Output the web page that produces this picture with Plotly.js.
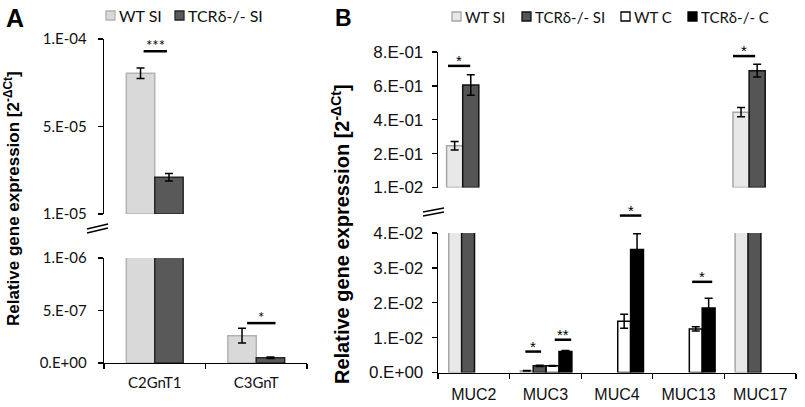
<!DOCTYPE html>
<html><head><meta charset="utf-8">
<script src="https://cdn.plot.ly/plotly-3.0.1.min.js"></script>
<style>html,body{margin:0;padding:0;background:#fff}#chart{width:805px;height:407px}</style>
</head><body><div id="chart"></div>
<script>
// ---------- Panel A data ----------
const catsA = ['C2GnT1', 'C3GnT'];
const wtSI_A = [8.05e-5, 2.6e-7];
const wtSI_A_err = [3.0e-6, 7e-8];
const tcrSI_A = [2.1e-5, 5e-8];
const tcrSI_A_err = [2.2e-6, 6e-9];
const upperCatsA = ['C2GnT1'];
const tickValsA_upper = [0, 5e-5, 1e-4];
const tickTextA_upper = ['1.E-05', '5.E-05', '1.E-04'];
const tickValsA_lower = [0, 5e-7, 1e-6];
const tickTextA_lower = ['0.E+00', '5.E-07', '1.E-06'];
const seriesA = ['WT SI', 'TCRδ-/- SI'];

// ---------- Panel B data ----------
const catsB = ['MUC2', 'MUC3', 'MUC4', 'MUC13', 'MUC17'];
const wtSI_B = [0.247, 0.0005, null, null, 0.445];
const wtSI_B_err = [0.025, 0.0001, null, null, 0.027];
const tcrSI_B = [0.605, 0.0019, null, null, 0.69];
const tcrSI_B_err = [0.06, 0.0002, null, null, 0.038];
const wtC_B = [null, 0.0019, 0.0147, 0.0125, null];
const wtC_B_err = [null, 0.0001, 0.002, 0.0006, null];
const tcrC_B = [null, 0.006, 0.0353, 0.0185, null];
const tcrC_B_err = [null, 0.0003, 0.0045, 0.0028, null];
const upperCatsB = ['MUC2', 'MUC17'];
const tickValsB_upper = [0, 0.2, 0.4, 0.6, 0.8];
const tickTextB_upper = ['1.E-02', '2.E-01', '4.E-01', '6.E-01', '8.E-01'];
const tickValsB_lower = [0, 0.01, 0.02, 0.03, 0.04];
const tickTextB_lower = ['0.E+00', '1.E-02', '2.E-02', '3.E-02', '4.E-02'];
const seriesB = ['WT SI', 'TCRδ-/- SI', 'WT C', 'TCRδ-/- C'];

// significance brackets: [panel axes, category position from, to, level, label]
const sigMarks = [
  ['A_up', -0.11, 0.12, 9.3e-5, '***'],
  ['A_lo', 0.91, 1.19, 3.8e-7, '*'],
  ['B_up', -0.36, -0.05, 0.718, '*'],
  ['B_up', 3.62, 3.93, 0.776, '*'],
  ['B_lo', 0.72, 0.94, 0.006, '*'],
  ['B_lo', 1.13, 1.36, 0.0094, '**'],
  ['B_lo', 2.04, 2.34, 0.045, '*'],
  ['B_lo', 3.05, 3.33, 0.026, '*']
];

// ---------- styling ----------
const W = 805, H = 407;
const px = x => x / W, py = y => 1 - y / H;
const FA = 'Lato, "Open Sans", sans-serif';
const FB = '"Liberation Sans", Arial, sans-serif';

const styleA = [
  {fill: '#d9d9d9', line: '#b3b3b3'},
  {fill: '#595959', line: '#262626'}
];
const styleB = [
  {fill: '#e8e8e8', line: '#a6a6a6'},
  {fill: '#555555', line: '#111111'},
  {fill: '#ffffff', line: '#000000'},
  {fill: '#000000', line: '#000000'}
];

const keep = (vals, cats, allowed) => vals.map((v, i) => allowed.includes(cats[i]) ? v : null);

function barTrace(name, cats, y, err, st, xa, ya, offset, width) {
  return {
    type: 'bar', name: name, x: cats, y: y, xaxis: xa, yaxis: ya,
    offset: offset, width: width, showlegend: false,
    marker: {color: st.fill, line: {color: st.line, width: 1.5}},
    error_y: {type: 'data', array: err, visible: true, color: '#000', thickness: 1.5, width: 4},
    hoverinfo: 'skip'
  };
}

const wA = 0.28, offA = [-0.28, 0];
const wBlo = 0.18, offBlo = [-0.35, -0.17, 0.01, 0.19];
const wBup = 0.225, offBup = [-0.38, -0.155];

const dataA = [[wtSI_A, wtSI_A_err], [tcrSI_A, tcrSI_A_err]];
const dataB = [[wtSI_B, wtSI_B_err], [tcrSI_B, tcrSI_B_err], [wtC_B, wtC_B_err], [tcrC_B, tcrC_B_err]];

const traces = [];
dataA.forEach((d, i) => {
  traces.push(barTrace(seriesA[i], catsA, d[0], d[1], styleA[i], 'x', 'y', offA[i], wA));
  traces.push(barTrace(seriesA[i], catsA, keep(d[0], catsA, upperCatsA), keep(d[1], catsA, upperCatsA), styleA[i], 'x2', 'y2', offA[i], wA));
});
dataB.forEach((d, i) => {
  traces.push(barTrace(seriesB[i], catsB, d[0], d[1], styleB[i], 'x3', 'y3', offBlo[i], wBlo));
});
dataB.slice(0, 2).forEach((d, i) => {
  traces.push(barTrace(seriesB[i], catsB, keep(d[0], catsB, upperCatsB), keep(d[1], catsB, upperCatsB), styleB[i], 'x4', 'y4', offBup[i], wBup));
});

const xDomA = [px(104), px(307)];
const xDomB = [px(438), px(796)];

function yAx(domain, anchor, range, vals, text, font, size, standoff) {
  return {
    domain: domain, anchor: anchor, range: range, tickvals: vals, ticktext: text,
    showline: true, linecolor: '#000', linewidth: 1.3, ticks: 'outside', ticklen: 5,
    tickcolor: '#000', tickwidth: 1.3, showgrid: false, zeroline: false, ticklabelstandoff: standoff,
    tickfont: {family: font, size: size, color: '#111'}, fixedrange: true
  };
}
function xAx(domain, anchor, cats, font, size, visible, standoff) {
  return {
    domain: domain, anchor: anchor, type: 'category', categoryorder: 'array', categoryarray: cats,
    range: [-0.5, cats.length - 0.5], visible: visible,
    showline: true, linecolor: '#000', linewidth: 1.3, ticks: 'outside', tickson: 'boundaries',
    ticklen: 5, tickcolor: '#000', tickwidth: 1.3, showgrid: false, zeroline: false, ticklabelstandoff: standoff,
    tickfont: {family: font, size: size, color: '#111'}, fixedrange: true
  };
}

const shapes = [];
const annotations = [];

// significance brackets
const axMap = {
  A_up: ['x2', 'y2', 1e-4, FA], A_lo: ['x', 'y', 1e-6, FA],
  B_up: ['x4', 'y4', 0.8, FB], B_lo: ['x3', 'y3', 0.04, FB]
};
sigMarks.forEach(s => {
  const [xa, ya, top, fam] = axMap[s[0]];
  shapes.push({type: 'line', xref: xa, yref: ya + ' domain', x0: s[1], x1: s[2], y0: s[3] / top, y1: s[3] / top,
    line: {color: '#000', width: 2.5}});
  annotations.push({xref: xa, yref: ya + ' domain', x: (s[1] + s[2]) / 2, y: s[3] / top, text: s[4],
    showarrow: false, yanchor: 'bottom', yshift: -5, font: {family: fam, size: 15, color: '#000'}});
});

// axis break marks
[[87, 229, 108, 224], [87, 233, 108, 228], [423, 212, 444, 208], [423, 216, 444, 212]].forEach(b => {
  shapes.push({type: 'line', xref: 'paper', yref: 'paper', x0: px(b[0]), y0: py(b[1]), x1: px(b[2]), y1: py(b[3]),
    line: {color: '#000', width: 1.5}});
});

// custom legends
function legendItem(x, y, st, label, fam, size) {
  shapes.push({type: 'rect', xref: 'paper', yref: 'paper', x0: px(x), x1: px(x + 9), y0: py(y + 9), y1: py(y),
    fillcolor: st.fill, line: {color: st.line, width: 1.3}});
  annotations.push({xref: 'paper', yref: 'paper', x: px(x + 11), y: py(y + 4.5), text: label, showarrow: false,
    xanchor: 'left', yanchor: 'middle', font: {family: fam, size: size, color: '#111'}});
}
const legAx = [106, 175], legBx = [452, 522, 621, 688];
seriesA.forEach((n, i) => legendItem(legAx[i], 11, styleA[i], n, FA, 16));
seriesB.forEach((n, i) => legendItem(legBx[i], 12, styleB[i], n, FA, 15));

// panel letters
annotations.push({xref: 'paper', yref: 'paper', x: px(4), y: py(18), text: '<b>A</b>', showarrow: false,
  xanchor: 'left', yanchor: 'middle', font: {family: FB, size: 25, color: '#000'}});
annotations.push({xref: 'paper', yref: 'paper', x: px(333), y: py(18), text: '<b>B</b>', showarrow: false,
  xanchor: 'left', yanchor: 'middle', font: {family: FB, size: 23, color: '#000'}});

// y axis titles
const yTitle = '<b>Relative gene expression [2<sup>-ΔCt</sup>]</b>';
annotations.push({xref: 'paper', yref: 'paper', x: px(12), y: py(199), text: yTitle, textangle: -90,
  showarrow: false, xanchor: 'center', yanchor: 'middle', font: {family: FB, size: 17, color: '#000'}});
annotations.push({xref: 'paper', yref: 'paper', x: px(340), y: py(234), text: yTitle, textangle: -90,
  showarrow: false, xanchor: 'center', yanchor: 'middle', font: {family: FB, size: 20, color: '#000'}});

const layout = {
  width: W, height: H, margin: {l: 0, r: 0, t: 0, b: 0},
  paper_bgcolor: '#fff', plot_bgcolor: 'rgba(0,0,0,0)',
  barmode: 'overlay', showlegend: false,
  xaxis: xAx(xDomA, 'y', catsA, FA, 15, true, 6),
  yaxis: yAx([py(363), py(258)], 'x', [0, 1e-6], tickValsA_lower, tickTextA_lower, FA, 15, 8),
  xaxis2: xAx(xDomA, 'y2', catsA, FA, 15, false, 0),
  yaxis2: yAx([py(214), py(39)], 'x2', [0, 1e-4], tickValsA_upper, tickTextA_upper, FA, 15, 8),
  xaxis3: xAx(xDomB, 'y3', catsB, FB, 16, true, 7),
  yaxis3: yAx([py(372.5), py(233)], 'x3', [0, 0.04], tickValsB_lower, tickTextB_lower, FB, 17, 5),
  xaxis4: xAx(xDomB, 'y4', catsB, FB, 16, false, 0),
  yaxis4: yAx([py(187.5), py(52)], 'x4', [0, 0.8], tickValsB_upper, tickTextB_upper, FB, 17, 5),
  shapes: shapes, annotations: annotations
};

Plotly.newPlot('chart', traces, layout, {staticPlot: true, displayModeBar: false});
</script>
</body></html>
